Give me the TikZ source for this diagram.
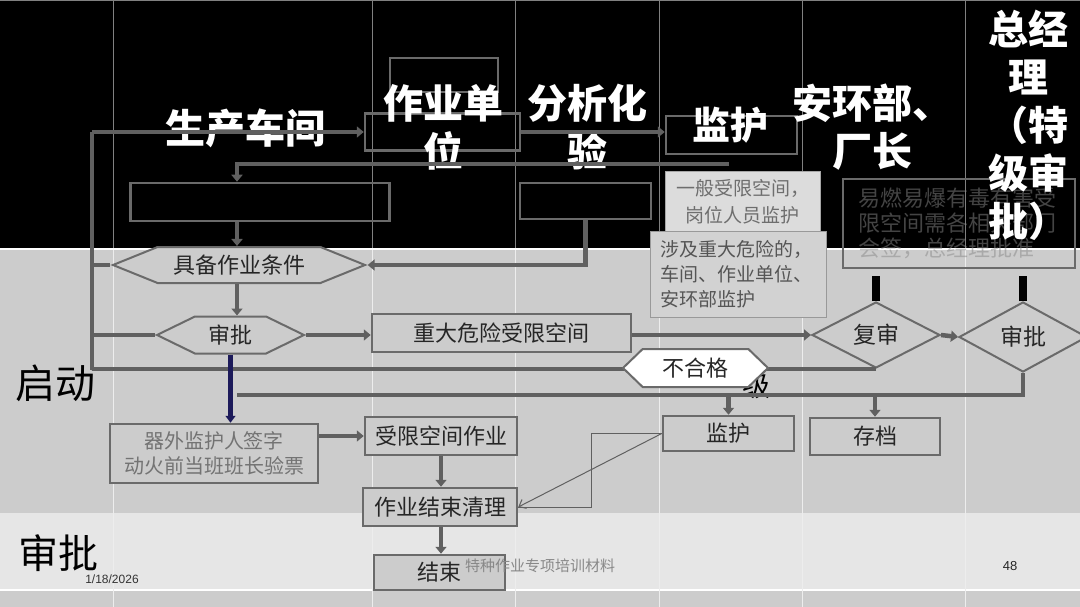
\documentclass[tikz,border=0pt]{standalone}
\usepackage{fontspec}
\setmainfont{Noto Sans CJK SC}
\newfontfamily\lat{Liberation Sans}
\usetikzlibrary{shapes.geometric,shapes.symbols,arrows.meta}
\definecolor{bgmid}{HTML}{CCCCCC}
\definecolor{bglight}{HTML}{E6E6E6}
\definecolor{conncol}{HTML}{606060}
\definecolor{boxcol}{HTML}{6A6A6A}
\definecolor{navyline}{HTML}{1C1A5A}
\definecolor{colblack}{HTML}{808080}
\definecolor{colgray}{HTML}{EDEDED}
\definecolor{notebg}{HTML}{DCDCDC}
\definecolor{notebgb}{HTML}{D2D2D2}
\definecolor{notetxt}{HTML}{6E6E6E}
\definecolor{notetxtb}{HTML}{555555}
\definecolor{fainttxt}{HTML}{888888}
\tikzset{
  conn/.style={draw=conncol, line width=4.5pt},
  tip/.style={-{Triangle[length=7pt,width=11pt]}},
  fbox/.style={draw=boxcol, line width=2.5pt, inner sep=0pt, text=black!85, font=\fontsize{22}{26}\selectfont},
  hexa/.style={signal, signal to=west and east, draw=boxcol, line width=2pt, fill=bgmid, inner sep=0pt, text=black!85, font=\fontsize{22}{26}\selectfont},
  dia/.style={diamond, aspect=2, draw=boxcol, line width=2pt, fill=bgmid, inner sep=0pt, text=black!85, font=\fontsize{23}{26}\selectfont},
  header/.style={text=white, font=\bfseries\fontsize{40}{48}\selectfont, align=center, inner sep=0pt},
  rowlabel/.style={text=black, font=\fontsize{40}{48}\selectfont, inner sep=0pt},
}
\begin{document}
\begin{tikzpicture}[x=1pt,y=-1pt]
\useasboundingbox (0,0) rectangle (1080,607);
% bands
\fill[black] (0,0) rectangle (1080,248);
\fill[bgmid] (0,248) rectangle (1080,513);
\fill[bglight] (0,513) rectangle (1080,590);
\fill[bgmid] (0,590) rectangle (1080,607);
\draw[white, line width=1.5pt] (0,249) -- (1080,249);
\draw[white, line width=1.5pt] (0,590) -- (1080,590);
\draw[colblack, line width=1pt] (0,0.5) -- (1080,0.5);
\foreach \cx in {113,372,515,659,802,965}{
  \draw[colblack, line width=1pt] (\cx,0) -- (\cx,248);
  \draw[colgray, line width=1pt] (\cx,250) -- (\cx,607);
}
% top boxes
\node[fbox, minimum width=108pt, minimum height=34pt] (zy1) at (444,75) {};
\node[fbox, minimum width=155pt, minimum height=37pt] (zy2) at (442.5,132) {};
\node[fbox, minimum width=131pt, minimum height=38pt] (jh0) at (731.5,135) {};
\node[fbox, minimum width=259pt, minimum height=38pt] (b1) at (260,202) {};
\node[fbox, minimum width=131pt, minimum height=36pt] (b2) at (585.5,201) {};
% notes
\node[draw=gray!70, line width=1pt, fill=notebg, text=notetxt, minimum width=155pt, minimum height=60pt, inner sep=0pt, align=center, font=\fontsize{19}{27}\selectfont] (yb) at (742.5,202) {一般受限空间，\\岗位人员监护};
\node[draw=gray!80, line width=1pt, fill=notebgb, text=notetxtb, minimum width=176pt, minimum height=85pt, inner sep=0pt, text width=156pt, align=left, font=\fontsize{19}{25}\selectfont] (sj) at (738,274.5) {涉及重大危险的，\\车间、作业单位、\\安环部监护};
\node[draw=boxcol, line width=2pt, minimum width=232pt, minimum height=89pt, inner sep=0pt, text width=202pt, align=left, text=fainttxt, text opacity=0.5, font=\fontsize{22}{25}\selectfont] (yr) at (959,223.5) {易燃易爆有毒有害受\\限空间需各相关部门\\会签，总经理批准};
% headers
\node[header] (h1) at (245,128) {生产车间};
\node[header] (h2) at (443,127) {作业单\\位};
\node[header] (h3) at (587,127) {分析化\\验};
\node[header, font=\bfseries\fontsize{38}{46}\selectfont] (h4) at (730,125) {监护};
\node[header] (h5) at (872,127) {安环部、\\厂长};
\node[header] (h6) at (1028,125) {总经\\理\\（特\\级审\\批）};
% row labels
\node[rowlabel] (r1) at (56,383) {启动};
\node[rowlabel] (r2) at (58,553) {审批};
% hidden label
\node[inner sep=0pt, text=black, font=\fontsize{28}{28}\selectfont] (ej) at (742,386) {二级};
% flow nodes
\node[hexa, minimum width=252pt, minimum height=36pt, signal pointer angle=44] (jb) at (239,265) {具备作业条件};
\node[hexa, minimum width=147pt, minimum height=37pt, signal pointer angle=52] (sp) at (230.5,335) {审批};
\node[fbox, fill=bgmid, minimum width=259pt, minimum height=38pt] (zd) at (501.5,333) {重大危险受限空间};
\node[dia, minimum width=128pt, minimum height=66pt] (fs) at (876,335) {复审};
\node[dia, minimum width=128pt, minimum height=70pt] (sp2) at (1023,337) {审批};
\node[fbox, fill=bgmid, text=black!55, minimum width=208pt, minimum height=59pt, align=center, font=\fontsize{20}{25}\selectfont] (qw) at (214,453.5) {器外监护人签字\\动火前当班班长验票};
\node[fbox, fill=bgmid, minimum width=152pt, minimum height=38pt] (sx) at (441,436) {受限空间作业};
\node[fbox, fill=bgmid, minimum width=154pt, minimum height=38pt] (jq) at (440,507) {作业结束清理};
\node[fbox, fill=bgmid, minimum width=131pt, minimum height=35pt] (js) at (439.5,572.5) {结束};
\node[fbox, fill=bgmid, minimum width=131pt, minimum height=35pt] (jh) at (728.5,433.5) {监护};
\node[fbox, fill=bgmid, minimum width=130pt, minimum height=37pt] (cd) at (875,436.5) {存档};
% coordinates
\coordinate (lt) at (92,132);
\coordinate (lb) at (92,370);
\coordinate (t1) at (729,164);
\coordinate (t2) at (237,164);
\coordinate (rb) at (237,395);
\coordinate (el) at (591,433.5);
\coordinate (vx) at (441,0);
% connectors
\draw[conn, tip] (lt) -- (zy2.west);
\draw[conn, tip] (zy2.east) -- (zy2.east -| jh0.west);
\draw[conn, tip] (t1) -- (t2) -- (t2 |- b1.north);
\draw[conn, tip] (b1.south -| t2) -- (jb.north -| t2);
\draw[conn, tip] (b2.south) -- (b2.south |- jb.east) -- (jb.east);
\draw[conn, tip] (jb.south -| t2) -- (sp.north -| t2);
\draw[conn] (lt) -- (lb);
\draw[conn] (lt |- jb.west) -- (jb.west);
\draw[conn] (lt |- sp.west) -- (sp.west);
\draw[conn, tip] (sp.east) -- (sp.east -| zd.west);
\draw[conn, tip] (zd.east |- fs.west) -- (fs.west);
\draw[conn, tip] (fs.east) -- (sp2.west);
\draw[conn] (fs.south) -- (fs.south -| lb) -- (lb);
\draw[conn] (sp2.south) |- (rb);
\draw[conn, tip] (jh.north |- rb) -- (jh.north);
\draw[conn, tip] (cd.north |- rb) -- (cd.north);
\draw[navyline, line width=4.5pt, -{Triangle[length=7pt,width=10pt]}] (sp.south) -- (sp.south |- qw.north);
\draw[conn, tip] (qw.east |- sx.west) -- (sx.west);
\draw[conn, tip] (vx |- sx.south) -- (vx |- jq.north);
\draw[conn, tip] (vx |- jq.south) -- (vx |- js.north);
\draw[black, line width=8pt] (fs.north) -- ++(0,-25);
\draw[black, line width=8pt] (sp2.north) -- ++(0,-25);
\draw[conncol, line width=1pt] (jh.west) -- (el) -- (el |- jq.east) -- (jq.east);
\draw[conncol, line width=1pt, -{Straight Barb[length=6pt,width=10pt]}] (jh.west) -- (jq.east);
% fail hexagon on top
\node[hexa, fill=white, minimum width=145pt, minimum height=38pt, signal pointer angle=88] (bh) at (695.5,368) {不合格};
% footer
\node[inner sep=0pt, text=black!80, font=\lat\fontsize{12}{14}\selectfont] (d1) at (112,579) {1/18/2026};
\node[inner sep=0pt, text=fainttxt, font=\fontsize{15}{18}\selectfont] (d2) at (540,566) {特种作业专项培训材料};
\node[inner sep=0pt, text=black!85, font=\lat\fontsize{13}{15}\selectfont] (d3) at (1010,566) {48};
\end{tikzpicture}
\end{document}
